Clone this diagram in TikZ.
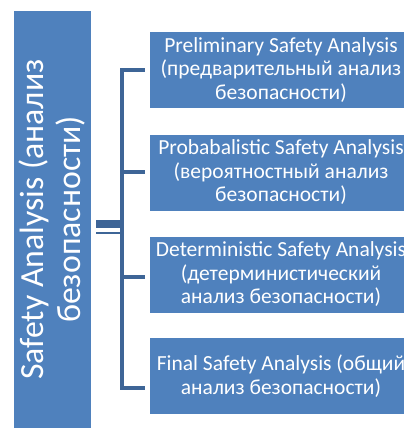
\documentclass[tikz,border=0pt]{standalone}
\usepackage{fontspec}
\setmainfont{Carlito}
\definecolor{boxblue}{HTML}{4F81BD}
\definecolor{linkblue}{HTML}{3E6597}
\begin{document}
\begin{tikzpicture}[x=1bp,y=-1bp,
  box/.style={fill=boxblue, draw=none, inner sep=0pt, text=white, align=center,
    minimum width=262bp, minimum height=76bp,
    font=\fontsize{21.5bp}{23.5bp}\selectfont},
  bigbox/.style={fill=boxblue, draw=none, inner sep=0pt, text=white, align=center,
    font=\fontsize{33.8bp}{37bp}\selectfont},
  conn/.style={draw=linkblue, line width=4.7bp, line join=miter},
  thinconn/.style={draw=linkblue, line width=2.5bp}]
\useasboundingbox (0,0) rectangle (404,428);
\clip (0,0) rectangle (404,428);

\node[bigbox, rotate=90, minimum width=417bp, minimum height=76.7bp] (L) at (52.3,219.5)
  {Safety Analysis (анализ\\безопасности)};

\node[box] (b1) at (281,70) {Preliminary Safety Analysis\\(предварительный анализ\\безопасности)};
\node[box] (b2) at (281,172.5) {Probabalistic Safety Analysis\\(вероятностный анализ\\безопасности)};
\node[box] (b3) at (281,274.5) {Deterministic Safety Analysis\\(детерминистический\\анализ безопасности)};
\node[box] (b4) at (281,376.3) {Final Safety Analysis (общий\\анализ безопасности)};

\coordinate (t1) at (144.5,70);
\coordinate (t2) at (144.5,172);
\coordinate (t3) at (144.5,277);
\coordinate (t4) at (144.5,388);
\coordinate (c1) at (122,70);
\coordinate (c2) at (122,172);
\coordinate (c3) at (122,277);
\coordinate (c4) at (122,388);
\coordinate (ja) at (96,224);
\coordinate (jb) at (122,224);
\coordinate (jc) at (96,233);
\coordinate (jd) at (122,233);

\draw[conn] (t1) -- (c1) -- (c4) -- (t4);
\draw[conn] (c2) -- (t2);
\draw[conn] (c3) -- (t3);
\draw[draw=linkblue, line width=8bp] (ja) -- (jb);
\draw[thinconn] (jc) -- (jd);
\end{tikzpicture}
\end{document}
